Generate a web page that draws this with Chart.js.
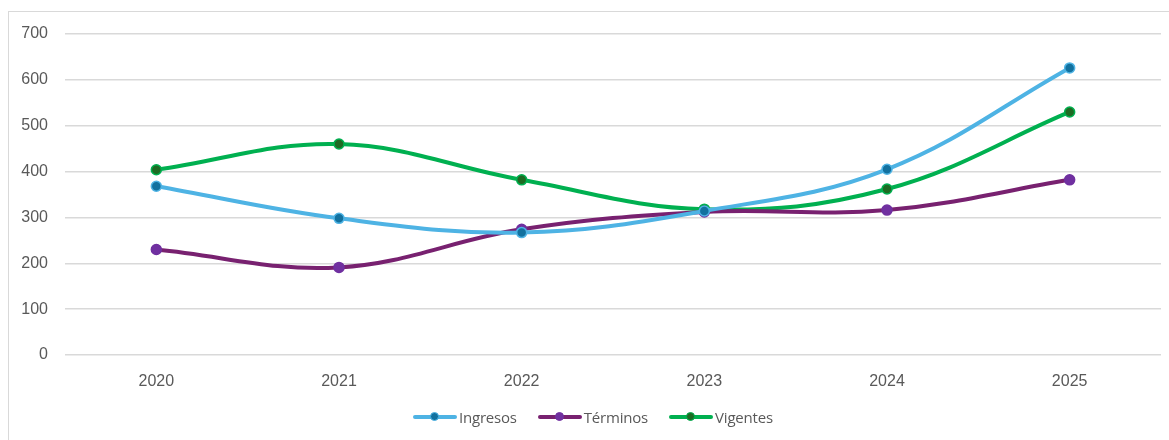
<!DOCTYPE html>
<html>
<head>
<meta charset="utf-8">
<script src="https://cdn.jsdelivr.net/npm/chart.js@4.4.1/dist/chart.umd.min.js"></script>
<style>
    html, body { margin: 0; padding: 0; background: #fff; }
    #wrap { position: relative; width: 1169px; height: 440px; overflow: hidden; }
    #frame {
        position: absolute; left: 8px; top: 11px; width: 1200px; height: 500px;
        border-left: 1.5px solid #d9d9d9; border-top: 1.5px solid #d9d9d9;
    }
    #chart { position: absolute; left: 0; top: 0; }
    #legend {
        position: absolute; left: 413px; top: 407px; display: flex; align-items: center;
        font-family: "Open Sans", sans-serif; font-size: 15px; color: #595959; letter-spacing: -0.2px;
    }
    .item { display: flex; align-items: center; margin-right: 21px; }
    .swatch { position: relative; width: 44px; height: 10px; margin-right: 2px; }
    .swatch .ln { position: absolute; left: 0; right: 0; top: 3px; height: 4px; border-radius: 2px; }
    .swatch .dt { position: absolute; left: 17px; top: 0; width: 7px; height: 7px; border-radius: 50%; border: 1.5px solid; }
</style>
</head>
<body>
<div id="wrap">
    <div id="frame"></div>
    <canvas id="chart" width="1169" height="440"></canvas>
    <div id="legend"></div>
</div>
<script>
// Datos
const years = ['2020', '2021', '2022', '2023', '2024', '2025'];
const ingresos = [368, 298, 267, 314, 405, 626];
const terminos = [230, 191, 274, 312, 316, 382];
const vigentes = [404, 460, 382, 318, 362, 530];
const yTicks = [0, 100, 200, 300, 400, 500, 600, 700];

// Colores
const blueLine = '#4EB3E4', bluePoint = '#12719F';
const purpleLine = '#782170', purplePoint = '#7030A0';
const greenLine = '#00B050', greenPoint = '#1E6B23';
const textColor = '#595959';

function serie(label, data, line, point, pointBorder) {
    return {
        label: label,
        data: data,
        borderColor: line,
        backgroundColor: point,
        borderWidth: 4,
        tension: 0.38,
        pointRadius: 5,
        pointBorderWidth: 1.5,
        pointBackgroundColor: point,
        pointBorderColor: pointBorder
    };
}

const datasets = [
    serie('Ingresos', ingresos, blueLine, bluePoint, blueLine),
    serie('Términos', terminos, purpleLine, purplePoint, purplePoint),
    serie('Vigentes', vigentes, greenLine, greenPoint, greenLine)
];

new Chart(document.getElementById('chart'), {
    type: 'line',
    data: { labels: years, datasets: datasets },
    options: {
        responsive: false,
        animation: false,
        devicePixelRatio: 1,
        layout: { padding: { top: 34, right: 8, left: 0, bottom: 0 } },
        plugins: { legend: { display: false }, tooltip: { enabled: false } },
        scales: {
            x: {
                offset: true,
                grid: { display: false },
                border: { display: false },
                ticks: { color: textColor, font: { family: 'Liberation Sans', size: 16 }, padding: 9, maxRotation: 0 },
                afterFit: (s) => { s.height = 85; }
            },
            y: {
                min: 0,
                max: 700,
                afterBuildTicks: (s) => { s.ticks = yTicks.map(v => ({ value: v })); },
                grid: { color: '#d9d9d9', lineWidth: 1.5, drawTicks: false },
                border: { display: false },
                ticks: { color: textColor, font: { family: 'Liberation Sans', size: 16 }, padding: 17 },
                afterFit: (s) => { s.width = 65; }
            }
        }
    }
});

// Leyenda
const legend = document.getElementById('legend');
datasets.forEach(ds => {
    const item = document.createElement('div');
    item.className = 'item';
    item.innerHTML = '<div class="swatch"><div class="ln" style="background:' + ds.borderColor + '"></div>' +
        '<div class="dt" style="background:' + ds.pointBackgroundColor + ';border-color:' + ds.pointBorderColor + '"></div></div>' +
        '<span>' + ds.label + '</span>';
    legend.appendChild(item);
});
</script>
</body>
</html>
